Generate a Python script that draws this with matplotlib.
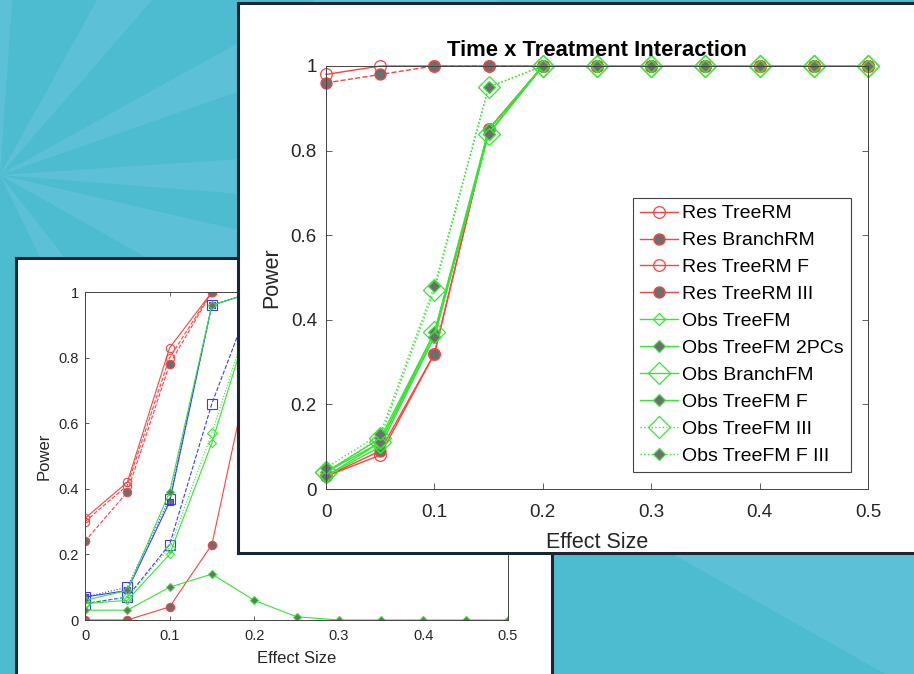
import matplotlib
matplotlib.use('Agg')
import matplotlib.pyplot as plt
from matplotlib.patches import Wedge

plt.rcParams['font.family'] = ['Liberation Sans', 'DejaVu Sans']

W, H = 914, 674

# shared axes data
effect_size = [0, 0.05, 0.1, 0.15, 0.2, 0.25, 0.3, 0.35, 0.4, 0.45, 0.5]
x_ticks = [0, 0.1, 0.2, 0.3, 0.4, 0.5]
x_tick_labels = ['0', '0.1', '0.2', '0.3', '0.4', '0.5']
y_ticks = [0, 0.2, 0.4, 0.6, 0.8, 1.0]
y_tick_labels = ['0', '0.2', '0.4', '0.6', '0.8', '1']

# front panel: Time x Treatment Interaction
front_title = 'Time x Treatment Interaction'
res_tree_rm = [0.98, 1.0, 1.0, 1.0, 1.0, 1.0, 1.0, 1.0, 1.0, 1.0, 1.0]
res_branch_rm = [0.96, 0.98, 1.0, 1.0, 1.0, 1.0, 1.0, 1.0, 1.0, 1.0, 1.0]
res_tree_rm_f = [0.03, 0.08, 0.32, 0.85, 1.0, 1.0, 1.0, 1.0, 1.0, 1.0, 1.0]
res_tree_rm_iii = [0.03, 0.09, 0.32, 0.85, 1.0, 1.0, 1.0, 1.0, 1.0, 1.0, 1.0]
obs_tree_fm = [0.03, 0.10, 0.36, 0.84, 1.0, 1.0, 1.0, 1.0, 1.0, 1.0, 1.0]
obs_tree_fm_2pcs = [0.04, 0.12, 0.37, 0.85, 1.0, 1.0, 1.0, 1.0, 1.0, 1.0, 1.0]
obs_branch_fm = [0.04, 0.11, 0.37, 0.84, 1.0, 1.0, 1.0, 1.0, 1.0, 1.0, 1.0]
obs_tree_fm_f = [0.03, 0.11, 0.36, 0.84, 1.0, 1.0, 1.0, 1.0, 1.0, 1.0, 1.0]
obs_tree_fm_iii = [0.04, 0.12, 0.47, 0.95, 1.0, 1.0, 1.0, 1.0, 1.0, 1.0, 1.0]
obs_tree_fm_f_iii = [0.05, 0.13, 0.48, 0.95, 1.0, 1.0, 1.0, 1.0, 1.0, 1.0, 1.0]

# back panel (mostly covered by the front one)
back_res_tree_rm = [0.31, 0.42, 0.83, 1.0, 1.0, 1.0, 1.0, 1.0, 1.0, 1.0, 1.0]
back_res_branch_rm = [0.24, 0.39, 0.78, 1.0, 1.0, 1.0, 1.0, 1.0, 1.0, 1.0, 1.0]
back_res_tree_rm_f = [0.30, 0.41, 0.80, 1.0, 1.0, 1.0, 1.0, 1.0, 1.0, 1.0, 1.0]
back_res_tree_rm_iii = [0.0, 0.0, 0.04, 0.23, 0.83, 1.0, 1.0, 1.0, 1.0, 1.0, 1.0]
back_sq_solid = [0.07, 0.09, 0.36, 0.96, 1.0, 1.0, 1.0, 1.0, 1.0, 1.0, 1.0]
back_sq_dashed = [0.05, 0.07, 0.23, 0.66, 1.0, 1.0, 1.0, 1.0, 1.0, 1.0, 1.0]
back_sq_dotted = [0.07, 0.10, 0.37, 0.96, 1.0, 1.0, 1.0, 1.0, 1.0, 1.0, 1.0]
back_obs_tree_fm = [0.05, 0.06, 0.20, 0.54, 0.96, 1.0, 1.0, 1.0, 1.0, 1.0, 1.0]
back_obs_tree_fm_2pcs = [0.06, 0.09, 0.39, 0.96, 1.0, 1.0, 1.0, 1.0, 1.0, 1.0, 1.0]
back_obs_branch_fm = [0.05, 0.07, 0.22, 0.57, 0.97, 1.0, 1.0, 1.0, 1.0, 1.0, 1.0]
back_obs_tree_fm_f = [0.03, 0.03, 0.10, 0.14, 0.06, 0.01, 0.0, 0.0, 0.0, 0.0, 0.0]

RED = '#ff4040'
GREEN = '#33e633'
BLUE = '#3a3aff'
GRAY = '#6e6e6e'
TXT = '#262626'
PANEL_EDGE = '#1b2632'
BG = '#4dbcd0'
RAY = '#5cc1d6'

fig = plt.figure(figsize=(W / 100, H / 100), dpi=100)


def px_axes(x0, y0, x1, y1, **kw):
    # pixel box (top-left origin) -> figure axes
    return fig.add_axes([x0 / W, 1 - y1 / H, (x1 - x0) / W, (y1 - y0) / H], **kw)


# background with rays
bg = px_axes(0, 0, W, H, zorder=0)
bg.set_xlim(0, W)
bg.set_ylim(H, 0)
bg.axis('off')
bg.add_patch(plt.Rectangle((0, 0), W, H, color=BG))
for a1, a2 in [(-90, -86), (-61, -49), (-29, -19.3), (-3.8, 4.5), (13, 29.4), (52, 64)]:
    bg.add_patch(Wedge((0, 175), 3000, a1, a2, color=RAY, lw=0))


def panel(x0, y0, x1, y1, z):
    p = px_axes(x0, y0, x1, y1, zorder=z)
    p.set_facecolor('white')
    p.set_xticks([])
    p.set_yticks([])
    for s in p.spines.values():
        s.set_color(PANEL_EDGE)
        s.set_linewidth(2.2)
    return p


def style_axes(ax, tick_size, tick_len, xpad, ypad):
    ax.set_xlim(0, 0.5)
    ax.set_ylim(0, 1)
    ax.set_xticks(x_ticks)
    ax.set_xticklabels(x_tick_labels)
    ax.set_yticks(y_ticks)
    ax.set_yticklabels(y_tick_labels)
    ax.tick_params(direction='in', top=True, right=True, length=tick_len, width=0.6,
                   color='#444444', labelsize=tick_size, labelcolor=TXT)
    ax.tick_params(axis='x', pad=xpad)
    ax.tick_params(axis='y', pad=ypad)
    for s in ax.spines.values():
        s.set_color('#444444')
        s.set_linewidth(0.7)


# ---- back panel ----
panel(16, 258, 552, 680, 1)
axb = px_axes(85, 292, 508, 620, zorder=2)
style_axes(axb, 10.5, 3, 6.5, 4.3)
back_series = [
    (back_res_tree_rm, RED, '-', 'o', 6, False),
    (back_res_tree_rm_f, RED, '--', 'o', 6, False),
    (back_res_branch_rm, RED, '--', 'o', 6, True),
    (back_res_tree_rm_iii, RED, '-', 'o', 6, True),
    (back_sq_solid, BLUE, '-', 's', 4, True),
    (back_sq_dotted, BLUE, ':', 's', 7, False),
    (back_sq_dashed, BLUE, '--', 's', 7.5, False),
    (back_obs_tree_fm, GREEN, '-', 'D', 4, False),
    (back_obs_branch_fm, GREEN, ':', 'D', 5, False),
    (back_obs_tree_fm_2pcs, GREEN, '-', 'D', 4, True),
    (back_obs_tree_fm_f, GREEN, '-', 'D', 4, True),
]
for vals, c, ls, m, ms, filled in back_series:
    axb.plot(effect_size, vals, color=c, ls=ls, lw=0.8, marker=m, ms=ms,
             mec=c, mfc=GRAY if filled else 'none', mew=0.8)
axb.set_xlabel('Effect Size', fontsize=12, color=TXT)
axb.xaxis.set_label_coords(0.5, -0.095)
axb.set_ylabel('Power', fontsize=12, color=TXT, va='center')
axb.yaxis.set_label_coords(-0.097, 0.5)

# ---- front panel ----
panel(238, 3, 930, 553, 3)
axf = px_axes(326, 66, 868, 489, zorder=4)
style_axes(axf, 13.5, 4.5, 10.5, 6.5)
front_series = [
    ('Res TreeRM', res_tree_rm, RED, '-', 'o', 8.4, False),
    ('Res BranchRM', res_branch_rm, RED, '--', 'o', 8, True),
    ('Res TreeRM F', res_tree_rm_f, RED, '-', 'o', 8.4, False),
    ('Res TreeRM III', res_tree_rm_iii, RED, '-', 'o', 8, True),
    ('Obs TreeFM', obs_tree_fm, GREEN, '-', 'D', 6.2, False),
    ('Obs TreeFM 2PCs', obs_tree_fm_2pcs, GREEN, '-', 'D', 6.3, True),
    ('Obs BranchFM', obs_branch_fm, GREEN, '-', 'D', 11.5, False),
    ('Obs TreeFM F', obs_tree_fm_f, GREEN, '-', 'D', 6.3, True),
    ('Obs TreeFM III', obs_tree_fm_iii, GREEN, ':', 'D', 11.5, False),
    ('Obs TreeFM F III', obs_tree_fm_f_iii, GREEN, ':', 'D', 6.3, True),
]
for name, vals, c, ls, m, ms, filled in front_series:
    axf.plot(effect_size, vals, color=c, ls=ls, lw=1.0, marker=m, ms=ms,
             mec=c, mfc=GRAY if filled else 'none', mew=0.9, label=name, clip_on=False)
axf.set_title(front_title, fontsize=15.8, fontweight='bold', color='black', pad=7)
axf.set_xlabel('Effect Size', fontsize=15.5, color=TXT)
axf.xaxis.set_label_coords(0.5, -0.102)
axf.set_ylabel('Power', fontsize=15.5, color=TXT, va='center')
axf.yaxis.set_label_coords(-0.1, 0.5)

leg = axf.legend(loc='upper left', bbox_to_anchor=(0.566, 0.688), borderaxespad=0,
                 fontsize=14, labelspacing=0.48, handlelength=2.0, handletextpad=0.2,
                 borderpad=0.35, fancybox=False, framealpha=1, edgecolor='#444444')
leg.get_frame().set_linewidth(0.8)
# legend keys are drawn with solid red lines
for line in leg.get_lines()[:4]:
    line.set_linestyle('-')
for t in leg.get_texts():
    t.set_color('black')

fig.savefig('out.png', dpi=100)
